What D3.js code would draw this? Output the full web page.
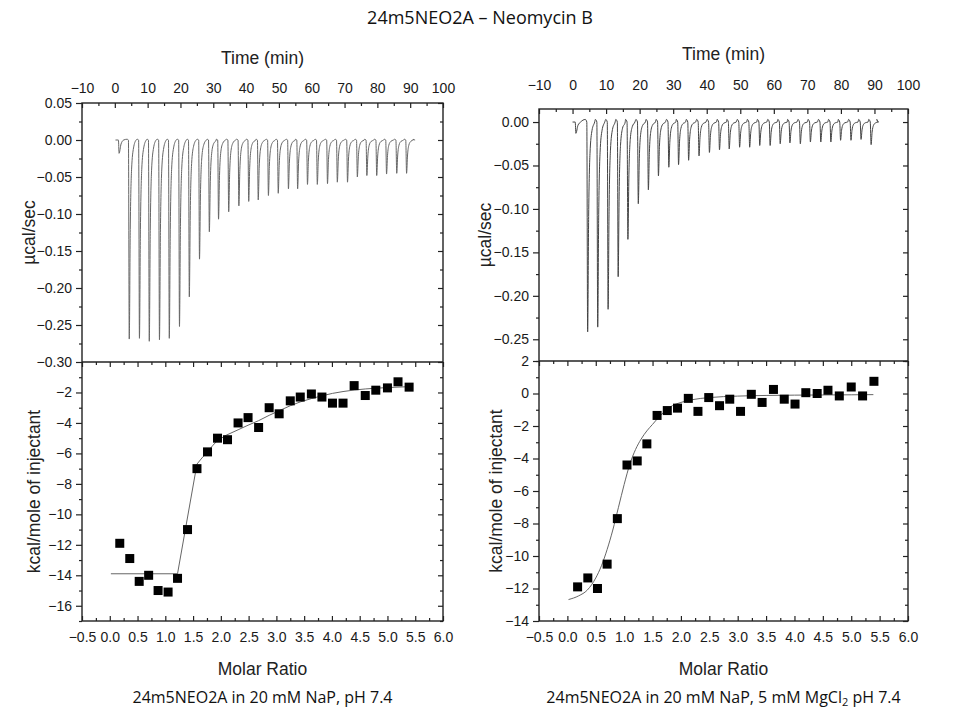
<!DOCTYPE html>
<html>
<head>
<meta charset="utf-8">
<script src="https://cdn.jsdelivr.net/npm/d3@7"></script>
<style>
  body { margin: 0; background: #fff; }
  svg { display: block; }
  .ttl { font-family: "Liberation Sans", Arial, sans-serif; font-size: 17.5px; fill: #222; }
  .cap { font-family: "Open Sans", "Noto Sans", sans-serif; font-size: 16px; fill: #111; }
</style>
</head>
<body>
<svg id="chart" width="958" height="720"></svg>
<script>
// ---- left panel: 20 mM NaP ----
var leftTimes = [4.4, 7.5, 10.5, 13.6, 16.6, 19.7, 22.7, 25.8, 28.8, 31.6, 34.7, 37.8, 40.8, 43.7, 46.8,
  49.8, 52.9, 55.7, 58.7, 61.7, 64.8, 67.8, 70.9, 73.9, 76.8, 79.8, 82.8, 85.9, 88.9];
var leftDepths = [-0.269, -0.268, -0.272, -0.270, -0.268, -0.252, -0.212, -0.161, -0.124, -0.107, -0.097, -0.089,
  -0.083, -0.081, -0.075, -0.072, -0.066, -0.066, -0.060, -0.060, -0.059, -0.057, -0.057, -0.050, -0.048,
  -0.048, -0.046, -0.045, -0.045];
var leftPre = { t: 1.3, depth: -0.018, start: 0.2, end: 91.5 };
var leftRatio = [0.18, 0.36, 0.53, 0.70, 0.87, 1.05, 1.22, 1.40, 1.57, 1.76, 1.94, 2.12, 2.31, 2.49, 2.68,
  2.87, 3.05, 3.25, 3.43, 3.63, 3.82, 4.01, 4.20, 4.40, 4.60, 4.79, 5.00, 5.19, 5.39];
var leftHeat = [-11.9, -12.9, -14.4, -14.0, -15.0, -15.1, -14.2, -11.0, -7.0, -5.9, -5.0, -5.1, -4.0, -3.65, -4.3,
  -3.0, -3.4, -2.55, -2.3, -2.1, -2.3, -2.7, -2.7, -1.55, -2.2, -1.85, -1.7, -1.3, -1.65];
var leftFitX = [0.02, 1.22, 1.57, 1.66, 1.75, 1.85, 1.94, 2.10, 2.31, 2.49, 2.68, 2.87, 3.05, 3.25, 3.43, 3.63,
  3.82, 4.01, 4.20, 4.40, 4.60, 4.79, 5.00, 5.19, 5.39];
var leftFitY = [-13.9, -13.9, -6.7, -6.3, -5.95, -5.5, -5.15, -4.8, -4.45, -4.15, -3.85, -3.5, -3.2, -2.87, -2.62,
  -2.4, -2.22, -2.06, -1.94, -1.84, -1.77, -1.72, -1.68, -1.65, -1.62];

// ---- right panel: 20 mM NaP, 5 mM MgCl2 ----
var rightTimes = [4.5, 7.5, 10.6, 13.6, 16.5, 19.6, 22.6, 25.6, 28.7, 31.6, 34.6, 37.7, 40.8, 43.8, 46.7,
  49.8, 52.8, 55.8, 58.9, 61.9, 64.8, 67.9, 70.9, 74.0, 77.0, 79.9, 83.0, 86.0, 89.0];
var rightDepths = [-0.2415, -0.236, -0.2155, -0.178, -0.135, -0.094, -0.078, -0.062, -0.052, -0.049, -0.044,
  -0.039, -0.035, -0.032, -0.031, -0.029, -0.029, -0.027, -0.027, -0.025, -0.024, -0.025, -0.023, -0.023,
  -0.023, -0.021, -0.021, -0.020, -0.026];
var rightPre = { t: 1.0, depth: -0.013, start: 0.0, end: 91.3 };
var rightRatio = [0.18, 0.36, 0.53, 0.70, 0.88, 1.05, 1.23, 1.40, 1.58, 1.76, 1.94, 2.13, 2.30, 2.49, 2.68,
  2.86, 3.05, 3.24, 3.43, 3.63, 3.82, 4.01, 4.20, 4.40, 4.59, 4.79, 5.00, 5.20, 5.40];
var rightHeat = [-11.9, -11.35, -12.0, -10.5, -7.7, -4.4, -4.15, -3.1, -1.35, -1.05, -0.9, -0.3, -1.1, -0.25,
  -0.75, -0.35, -1.1, -0.05, -0.55, 0.25, -0.35, -0.65, 0.05, 0.0, 0.2, -0.15, 0.4, -0.15, 0.75];
var rightFitX = [0.02, 0.2, 0.35, 0.5, 0.6, 0.7, 0.8, 0.9, 1.0, 1.1, 1.2, 1.3, 1.4, 1.5, 1.6, 1.8, 2.0, 2.2,
  2.5, 3.0, 3.5, 4.0, 4.5, 5.0, 5.39];
var rightFitY = [-12.68, -12.45, -12.1, -11.35, -10.6, -9.6, -8.4, -7.0, -5.6, -4.35, -3.45, -2.8, -2.3, -1.9,
  -1.5, -0.85, -0.55, -0.38, -0.25, -0.16, -0.12, -0.1, -0.09, -0.08, -0.07];

var timeTicks = d3.range(-10, 101, 10);
var ratioTicks = d3.range(-0.5, 6.01, 0.5);

var svg = d3.select("#chart");

svg.append("text").attr("class", "cap").attr("x", 480).attr("y", 24)
  .attr("text-anchor", "middle").style("font-size", "18px").text("24m5NEO2A \u2013 Neomycin B");

function buildTrace(times, depths, pre, bump) {
  // each injection drawn as a sharp drop and a decaying return to baseline
  var pts = [[pre.start, 0], [pre.t - 0.2, 0], [pre.t, pre.depth], [pre.t + 0.6, pre.depth * 0.3], [pre.t + 1.4, 0]];
  times.forEach(function (t, i) {
    var d = depths[i];
    pts.push([t - 0.7, bump], [t - 0.25, 0], [t, d], [t + 0.3, d * 0.45], [t + 0.7, d * 0.15],
      [t + 1.3, d * 0.04], [t + 2.1, 0]);
  });
  pts.push([pre.end - 0.6, bump], [pre.end, 0]);
  return pts;
}

function panel(o) {
  var g = svg.append("g");
  var xt = d3.scaleLinear().domain([-10, 100]).range([o.x0, o.x1]);
  var xr = d3.scaleLinear().domain([-0.5, 6.0]).range([o.x0, o.x1]);
  var yu = d3.scaleLinear().domain(o.ucal).range([o.yMid, o.yTop]);
  var yk = d3.scaleLinear().domain(o.kcal).range([o.yBot, o.yMid]);

  // thermogram
  g.append("path")
    .datum(buildTrace(o.times, o.depths, o.pre, o.bump))
    .attr("fill", "none").attr("stroke", o.traceColor).attr("stroke-width", 1)
    .attr("d", d3.line().x(d => xt(d[0])).y(d => yu(d[1])).curve(d3.curveMonotoneX));

  // fit line
  g.append("path")
    .datum(o.fitX.map((v, i) => [v, o.fitY[i]]))
    .attr("fill", "none").attr("stroke", "#666").attr("stroke-width", 1)
    .attr("d", d3.line().x(d => xr(d[0])).y(d => yk(d[1])).curve(o.fitCurve));

  // integrated heats
  g.selectAll("rect.pt").data(o.ratio).join("rect")
    .attr("class", "pt")
    .attr("x", (d, i) => xr(d) - 4.5).attr("y", (d, i) => yk(o.heat[i]) - 4.5)
    .attr("width", 9).attr("height", 9).attr("fill", "#000");

  function axis(a, tr) {
    var ax = g.append("g").attr("transform", tr).call(a);
    ax.select(".domain").remove();
    ax.selectAll(".tick line").attr("stroke", "#222").attr("stroke-width", 1.2);
    ax.selectAll(".tick text")
      .style("font-family", "'Liberation Sans', Arial, sans-serif")
      .style("font-size", "14px").style("fill", "#1a1a1a");
    return ax;
  }

  // top time axis, ticks pointing inward
  axis(d3.axisTop(xt).tickValues(timeTicks).tickSize(-5).tickPadding(o.timePad).tickFormat(d3.format("d")),
    "translate(0," + o.yTop + ")");
  axis(d3.axisTop(xt).tickValues(d3.range(-5, 100, 10)).tickSize(-3).tickFormat(""), "translate(0," + o.yTop + ")");

  // left axes, ticks outward
  axis(d3.axisLeft(yu).tickValues(o.ucalTicks).tickSize(6).tickPadding(4).tickFormat(d3.format(".2f")),
    "translate(" + o.x0 + ",0)");
  axis(d3.axisLeft(yu).tickValues(o.ucalMinor).tickSize(3).tickFormat(""), "translate(" + o.x0 + ",0)");
  axis(d3.axisLeft(yk).tickValues(o.kcalTicks).tickSize(6).tickPadding(4).tickFormat(d3.format("d")),
    "translate(" + o.x0 + ",0)");
  axis(d3.axisLeft(yk).tickValues(o.kcalMinor).tickSize(3).tickFormat(""), "translate(" + o.x0 + ",0)");

  // right axes, inward
  axis(d3.axisRight(yu).tickValues(o.ucalTicks).tickSize(-5).tickFormat(""), "translate(" + o.x1 + ",0)");
  axis(d3.axisRight(yu).tickValues(o.ucalMinor).tickSize(-3).tickFormat(""), "translate(" + o.x1 + ",0)");
  axis(d3.axisRight(yk).tickValues(o.kcalTicks).tickSize(-5).tickFormat(""), "translate(" + o.x1 + ",0)");
  axis(d3.axisRight(yk).tickValues(o.kcalMinor).tickSize(-3).tickFormat(""), "translate(" + o.x1 + ",0)");

  // molar ratio ticks on the dividing line (inward) and bottom
  axis(d3.axisTop(xr).tickValues(ratioTicks).tickSize(-5).tickFormat(""), "translate(0," + o.yMid + ")");
  axis(d3.axisTop(xr).tickValues(d3.range(-0.25, 6, 0.5)).tickSize(-3).tickFormat(""), "translate(0," + o.yMid + ")");
  axis(d3.axisBottom(xr).tickValues(ratioTicks).tickSize(-5).tickPadding(11).tickFormat(d3.format(".1f")),
    "translate(0," + o.yBot + ")");
  axis(d3.axisBottom(xr).tickValues(d3.range(-0.25, 6, 0.5)).tickSize(-3).tickFormat(""), "translate(0," + o.yBot + ")");

  // frames
  g.append("rect").attr("x", o.x0).attr("y", o.yTop).attr("width", o.x1 - o.x0).attr("height", o.yBot - o.yTop)
    .attr("fill", "none").attr("stroke", "#222").attr("stroke-width", 1.4);
  g.append("line").attr("x1", o.x0).attr("x2", o.x1).attr("y1", o.yMid).attr("y2", o.yMid)
    .attr("stroke", "#222").attr("stroke-width", 1.4);

  // titles
  var cx = (o.x0 + o.x1) / 2;
  g.append("text").attr("class", "ttl").attr("x", cx).attr("y", o.timeTitleY).attr("text-anchor", "middle").text("Time (min)");
  g.append("text").attr("class", "ttl").attr("x", cx).attr("y", 675).attr("text-anchor", "middle").text("Molar Ratio");
  g.append("text").attr("class", "ttl").attr("text-anchor", "middle")
    .attr("transform", "translate(" + o.uLabelX + "," + (o.yTop + o.yMid) / 2 + ") rotate(-90)").text("\u00b5cal/sec");
  g.append("text").attr("class", "ttl").attr("text-anchor", "middle")
    .attr("transform", "translate(" + o.kLabelX + "," + (o.yMid + o.yBot) / 2 + ") rotate(-90)").text("kcal/mole of injectant");
  var cap = g.append("text").attr("class", "cap").attr("x", cx).attr("y", 703).attr("text-anchor", "middle");
  o.caption.forEach(function (c) {
    var s = cap.append("tspan").text(c.text);
    if (c.sub) s.attr("baseline-shift", "-25%").style("font-size", "11px");
  });
}

panel({
  x0: 82, x1: 443, yTop: 103, yMid: 362, yBot: 621,
  ucal: [-0.30, 0.05], kcal: [-17, 0],
  ucalTicks: d3.range(-6, 2).map(v => v * 0.05), ucalMinor: d3.range(-6, 1).map(v => v * 0.05 + 0.025),
  kcalTicks: d3.range(-16, -1, 2), kcalMinor: d3.range(-17, 0, 2),
  times: leftTimes, depths: leftDepths, pre: leftPre, bump: 0.001, traceColor: "#666",
  ratio: leftRatio, heat: leftHeat, fitX: leftFitX, fitY: leftFitY, fitCurve: d3.curveLinear,
  timePad: 10, timeTitleY: 64, uLabelX: 35, kLabelX: 40,
  caption: [{ text: "24m5NEO2A in 20 mM NaP, pH 7.4" }]
});

panel({
  x0: 539, x1: 908, yTop: 109, yMid: 361, yBot: 621,
  ucal: [-0.275, 0.015], kcal: [-14, 2],
  ucalTicks: d3.range(-5, 1).map(v => v * 0.05), ucalMinor: d3.range(-5, 1).map(v => v * 0.05 - 0.025),
  kcalTicks: d3.range(-14, 3, 2), kcalMinor: d3.range(-13, 2, 2),
  times: rightTimes, depths: rightDepths, pre: rightPre, bump: 0.003, traceColor: "#444",
  ratio: rightRatio, heat: rightHeat, fitX: rightFitX, fitY: rightFitY, fitCurve: d3.curveMonotoneX,
  timePad: 19, timeTitleY: 60, uLabelX: 491, kLabelX: 502,
  caption: [{ text: "24m5NEO2A in 20 mM NaP, 5 mM MgCl" }, { text: "2", sub: true }, { text: " pH 7.4" }]
});
</script>
</body>
</html>
